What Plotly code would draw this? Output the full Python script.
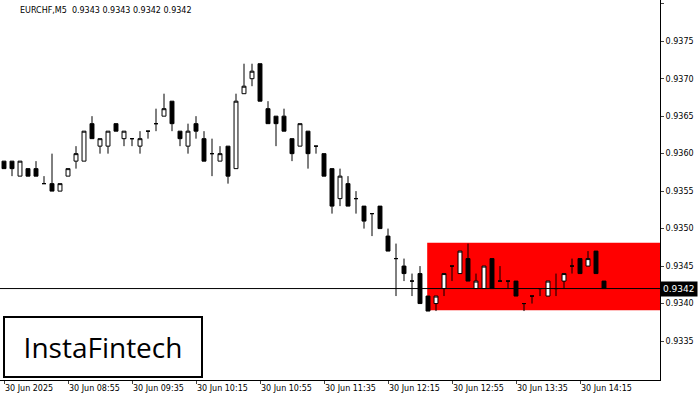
import plotly.graph_objects as go

# OHLC in units of 0.0001 over 0.93
opens = [59, 59, 57, 58, 58, 56, 56, 55, 57, 59, 59, 64, 61, 61, 64, 62, 62, 61, 63, 64,
         65, 67, 63, 61, 64, 62, 60, 59, 61, 58, 68, 70, 72, 66, 65, 65, 62, 61, 63, 61,
         60, 58, 54, 56, 54, 53, 52, 53, 49, 46, 45, 43, 44, 41, 40, 42, 45, 44, 46, 42,
         42, 46, 43, 43, 43, 40, 41, 42, 41, 42, 43, 45, 46, 45, 47, 43]
highs = [59, 59, 59, 58, 59, 57, 60, 56, 58, 61, 63, 65, 62, 63, 64, 63, 62, 63, 63, 66,
         68, 67, 63, 64, 65, 63, 62, 61, 61, 68, 72, 72, 72, 67, 65, 66, 62, 64, 63, 61,
         60, 58, 58, 57, 55, 53, 52, 53, 50, 48, 46, 44, 45, 41, 41, 44, 45, 47, 48, 44,
         45, 46, 45, 43, 43, 40, 41, 42, 43, 44, 44, 46, 46, 47, 47, 43]
lows = [58, 57, 57, 57, 57, 56, 55, 55, 57, 58, 59, 62, 60, 60, 63, 61, 61, 60, 62, 63,
        65, 63, 61, 60, 62, 59, 57, 59, 56, 58, 68, 69, 67, 64, 61, 63, 59, 61, 58, 60,
        57, 52, 53, 53, 52, 50, 49, 50, 47, 41, 43, 41, 40, 39, 39, 41, 43, 44, 43, 42,
        42, 42, 43, 42, 41, 39, 40, 41, 41, 41, 42, 44, 44, 45, 44, 42]
closes = [58, 58, 59, 57, 57, 56, 55, 56, 58, 60, 63, 62, 62, 63, 63, 63, 62, 62, 63, 64,
          66, 64, 62, 63, 63, 59, 60, 60, 57, 67, 69, 71, 67, 64, 64, 63, 60, 64, 60, 61,
          57, 53, 57, 53, 54, 51, 52, 50, 47, 46, 44, 43, 40, 39, 41, 44, 45, 47, 43, 43,
          45, 42, 43, 43, 41, 40, 41, 42, 43, 42, 44, 45, 44, 46, 44, 42]
tick_labels = ["30 Jun 2025", "30 Jun 08:55", "30 Jun 09:35", "30 Jun 10:15", "30 Jun 10:55",
               "30 Jun 11:35", "30 Jun 12:15", "30 Jun 12:55", "30 Jun 13:35", "30 Jun 14:15"]
price_ticks = [0.9335, 0.9340, 0.9345, 0.9350, 0.9355, 0.9360, 0.9365, 0.9370, 0.9375, 0.9380]
zone_low, zone_high, zone_start = 0.93391, 0.93481, 53
last_price = 0.9342

def p(v):
    return [0.93 + x / 10000 for x in v]

x = list(range(len(opens)))

fig = go.Figure()
fig.add_shape(type="rect", x0=zone_start - 0.1, x1=82, y0=zone_low, y1=zone_high,
              fillcolor="#ff0000", line_width=0, layer="below")
fig.add_trace(go.Candlestick(
    x=x, open=p(opens), high=p(highs), low=p(lows), close=p(closes),
    increasing=dict(fillcolor="white", line=dict(color="black", width=1)),
    decreasing=dict(fillcolor="black", line=dict(color="black", width=1)),
    whiskerwidth=0, showlegend=False, hoverinfo="skip"
))
fig.add_hline(y=last_price, line_color="black", line_width=1)

fig.add_annotation(x=1, xref="paper", y=last_price, yref="y", xanchor="left",
                   text="0.9342", showarrow=False, bgcolor="black",
                   font=dict(color="white", size=9, family="DejaVu Sans"), borderpad=2)
fig.add_annotation(x=0.027, xref="paper", y=0.99, yref="paper", xanchor="left", yanchor="top",
                   text="EURCHF,M5  0.9343 0.9343 0.9342 0.9342", showarrow=False,
                   font=dict(color="black", size=8, family="DejaVu Sans"))
fig.add_annotation(x=0.004, xref="paper", y=0.005, yref="paper", xanchor="left", yanchor="bottom",
                   text="InstaFintech", showarrow=False, bgcolor="white",
                   bordercolor="black", borderwidth=2, borderpad=10, width=176,
                   font=dict(color="black", size=28, family="Open Sans"))

fig.update_layout(
    width=700, height=400, margin=dict(l=0, r=40, t=0, b=20),
    paper_bgcolor="white", plot_bgcolor="white",
    xaxis=dict(range=[-0.5, 82], tickvals=list(range(0, 80, 8)), ticktext=tick_labels,
               ticklabelposition="outside right", ticks="outside", ticklen=3, automargin=False,
               showgrid=False, showline=True, linecolor="black", mirror=True,
               rangeslider_visible=False, tickfont=dict(size=8, family="DejaVu Sans", color="black")),
    yaxis=dict(range=[0.93298, 0.93805], side="right", tickvals=price_ticks,
               ticktext=[f"{v:.4f}" for v in price_ticks], automargin=False,
               ticks="outside", ticklen=3, showgrid=False, showline=True, linecolor="black",
               mirror=True, tickfont=dict(size=8, family="DejaVu Sans", color="black")),
)

fig.write_html("out.html", config={"displayModeBar": False},
               post_script="document.body.style.margin='0';")
